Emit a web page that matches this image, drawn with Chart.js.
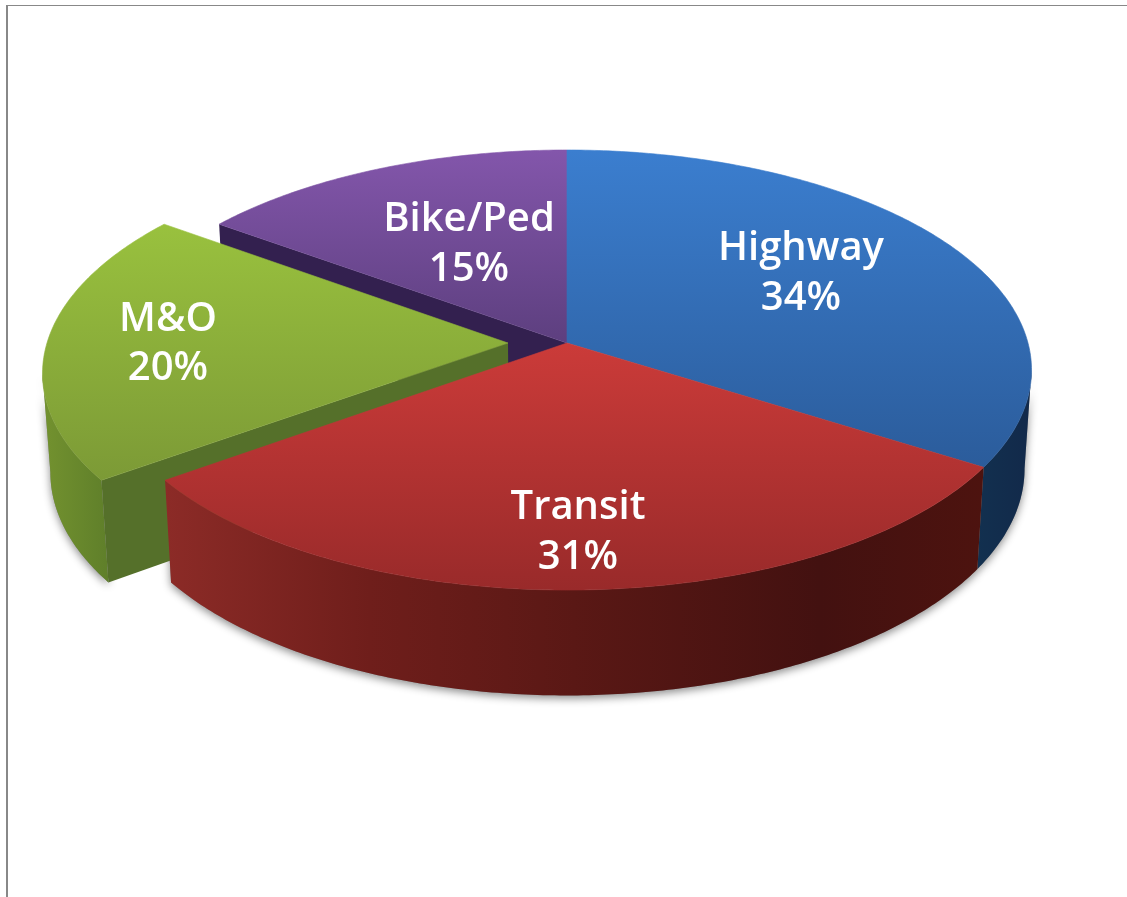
<!DOCTYPE html>
<html>
<head>
<meta charset="utf-8">
<style>
html,body{margin:0;padding:0;background:#fff;overflow:hidden}
#wrap{position:relative;width:1127px;height:897px}
#frame{position:absolute;left:6px;top:5px;right:0;bottom:0;border-left:2px solid #888;border-top:1px solid #888;pointer-events:none}
canvas{display:block}
</style>
<script src="https://cdn.jsdelivr.net/npm/chart.js@4/dist/chart.umd.min.js"></script>
</head>
<body>
<div id="wrap"><canvas id="c" width="1127" height="897"></canvas><div id="frame"></div></div>
<script>
const categories = ["Highway", "Transit", "M&O", "Bike/Ped"];
const shares = [34, 31, 20, 15];
const explode = [0, 0, 0.128, 0];

const topColors = [["#3b7ecf","#2b5c9b"],["#cb3b39","#992a2a"],["#99c13e","#7c9a36"],["#8356ab","#5d3f7f"]];
const wallColors = [
  [[0,"#12304f"],[1,"#12294a"]],
  [[0,"#8c2b27"],[0.25,"#6f1e1b"],[0.5,"#5a1815"],[0.8,"#431110"],[1,"#4d130f"]],
  [[0,"#73922f"],[1,"#5f7f2a"]],
  [[0,"#33204f"],[1,"#33204f"]]
];
const cutColors = {2:"#55702a", 3:"#33204f"};
const labelPlacement = [[801,260,310],[578,519,569],[168,331,380],[469,231,281]];

const APEX_X=567, APEX_Y=343, A=461, B=216.7, K=0.1228, DROP=98, SHRINK_X=0.985, SHRINK_Y=1.03;

function project(x,z,low){
  const d=1+K*z;
  let X=APEX_X+A*x/d, Y=APEX_Y-B*z/d;
  if(low){X=APEX_X+(X-APEX_X)*SHRINK_X; Y=APEX_Y+DROP+(Y-APEX_Y)*SHRINK_Y;}
  return [X,Y];
}
function rimPoints(t0,t1,off,low){
  const pts=[], n=Math.max(8,Math.ceil((t1-t0)*90));
  for(let i=0;i<=n;i++){
    const t=t0+(t1-t0)*i/n;
    pts.push(project(Math.sin(t)-off,Math.cos(t),low));
  }
  return pts;
}
function tracePoly(ctx,pts){
  ctx.beginPath();
  pts.forEach((p,i)=>i?ctx.lineTo(p[0],p[1]):ctx.moveTo(p[0],p[1]));
  ctx.closePath();
}
// Part of an arc's outer wall that faces the viewer: trimmed at the silhouette point.
function frontRange(t0,t1,off){
  const n=400; let best=t0, bestX=-Infinity, worst=t0, worstX=Infinity;
  for(let i=0;i<=n;i++){
    const t=t0+(t1-t0)*i/n, X=project(Math.sin(t)-off,Math.cos(t),false)[0];
    if(X>bestX){bestX=X;best=t;}
    if(X<worstX){worstX=X;worst=t;}
  }
  let a=t0,b=t1;
  if(best>t0+1e-6&&best<t1-1e-6) a=best;
  if(worst>t0+1e-6&&worst<t1-1e-6) b=worst;
  return [a,b];
}
function wallPath(t0,t1,off){
  const [a,b]=frontRange(t0,t1,off);
  return rimPoints(a,b,off,false).concat(rimPoints(a,b,off,true).reverse());
}
function cutPath(t,off){
  const a=project(-off,0,false), b=project(Math.sin(t)-off,Math.cos(t),false),
        c=project(Math.sin(t)-off,Math.cos(t),true), d=project(-off,0,true);
  return [a,b,c,d];
}

const pie3d={
  id:"pie3d",
  beforeDatasetDraw(chart){
    const ctx=chart.ctx, arcs=chart.getDatasetMeta(0).data;
    const ang=arcs.map(a=>[a.startAngle+Math.PI/2,a.endAngle+Math.PI/2]);

    ctx.save();
    ctx.shadowColor="rgba(0,0,0,0.45)"; ctx.shadowBlur=9; ctx.shadowOffsetY=3; ctx.fillStyle="#888";
    [0,1,2].forEach(i=>{
      tracePoly(ctx,wallPath(ang[i][0],ang[i][1],explode[i])); ctx.fill();
    });
    ctx.restore();

    const order=[3,0,2,1];
    order.forEach(i=>{
      const [t0,t1]=ang[i], off=explode[i];
      if(i!==3){
        tracePoly(ctx,wallPath(t0,t1,off));
        const xs=wallPath(t0,t1,off).map(p=>p[0]);
        const g=ctx.createLinearGradient(Math.min(...xs),0,Math.max(...xs),0);
        wallColors[i].forEach(s=>g.addColorStop(s[0],s[1]));
        ctx.fillStyle=g; ctx.fill();
      }
      if(cutColors[i]){
        tracePoly(ctx,cutPath(t0,off));
        ctx.fillStyle=cutColors[i]; ctx.fill();
      }
      const top=[project(-off,0,false)].concat(rimPoints(t0,t1,off,false));
      const ys=top.map(p=>p[1]);
      const tg=ctx.createLinearGradient(0,Math.min(...ys),0,Math.max(...ys));
      tg.addColorStop(0,topColors[i][0]); tg.addColorStop(1,topColors[i][1]);
      tracePoly(ctx,top);
      ctx.fillStyle=tg; ctx.fill();
      ctx.strokeStyle=tg; ctx.lineWidth=0.6; ctx.stroke();
    });
    return false;
  },
  afterDatasetsDraw(chart){
    const ctx=chart.ctx;
    ctx.save();
    ctx.fillStyle="#fff";
    ctx.font="600 40px 'Open Sans'";
    ctx.textAlign="center"; ctx.textBaseline="alphabetic";
    categories.forEach((c,i)=>{
      const p=labelPlacement[i];
      ctx.fillText(c,p[0],p[1]);
      ctx.fillText(shares[i]+"%",p[0],p[2]);
    });
    ctx.restore();
  }
};

new Chart(document.getElementById("c"),{
  type:"pie",
  data:{labels:categories,datasets:[{data:shares,backgroundColor:topColors.map(c=>c[0]),borderWidth:0}]},
  options:{
    responsive:false,animation:false,
    layout:{padding:0},
    plugins:{legend:{display:false},tooltip:{enabled:false}}
  },
  plugins:[pie3d]
});
</script>
</body>
</html>
